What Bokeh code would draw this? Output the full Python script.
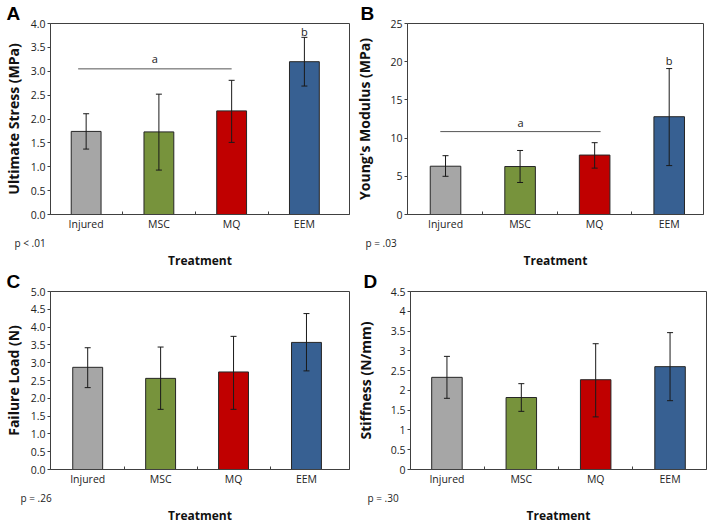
from bokeh.plotting import figure
from bokeh.models import ColumnDataSource, Whisker, TeeHead, FixedTicker, Range1d, Title
from bokeh.layouts import column, row
from bokeh.embed import file_html
from bokeh.resources import INLINE
from bokeh.core.properties import value

# ---------------- data ----------------
treatments = ["Injured", "MSC", "MQ", "EEM"]
bar_colors = ["#a6a6a6", "#77933c", "#c00000", "#376092"]

stress_mean = [1.74, 1.73, 2.17, 3.20]
stress_low = [1.37, 0.93, 1.51, 2.69]
stress_high = [2.11, 2.52, 2.81, 3.71]
stress_ticks = [0.0, 0.5, 1.0, 1.5, 2.0, 2.5, 3.0, 3.5, 4.0]
stress_tick_labels = ["0.0", "0.5", "1.0", "1.5", "2.0", "2.5", "3.0", "3.5", "4.0"]

modulus_mean = [6.32, 6.28, 7.78, 12.8]
modulus_low = [5.0, 4.19, 6.07, 6.4]
modulus_high = [7.7, 8.38, 9.4, 19.1]
modulus_ticks = [0, 5, 10, 15, 20, 25]
modulus_tick_labels = ["0", "5", "10", "15", "20", "25"]

load_mean = [2.87, 2.56, 2.74, 3.57]
load_low = [2.30, 1.69, 1.69, 2.77]
load_high = [3.42, 3.44, 3.74, 4.38]
load_ticks = [0.0, 0.5, 1.0, 1.5, 2.0, 2.5, 3.0, 3.5, 4.0, 4.5, 5.0]
load_tick_labels = ["0.0", "0.5", "1.0", "1.5", "2.0", "2.5", "3.0", "3.5", "4.0", "4.5", "5.0"]

stiff_mean = [2.33, 1.82, 2.27, 2.60]
stiff_low = [1.80, 1.47, 1.33, 1.74]
stiff_high = [2.86, 2.17, 3.18, 3.46]
stiff_ticks = [0, 0.5, 1, 1.5, 2, 2.5, 3, 3.5, 4, 4.5]
stiff_tick_labels = ["0", "0.5", "1", "1.5", "2", "2.5", "3", "3.5", "4", "4.5"]

# significance groups: bracket over Injured..MQ labelled "a", EEM labelled "b"
stress_bracket = dict(x0=-0.11, x1=2.0, y=3.05, label="a", label_y=3.26, b_y=3.84)
modulus_bracket = dict(x0=-0.07, x1=2.08, y=10.85, label="a", label_y=12.05, b_y=20.2)

p_values = {"A": "p < .01", "B": "p = .03", "C": "p = .26", "D": "p = .30"}

TICK_FONT = "Open Sans"
TITLE_FONT = "Open Sans"
DARK = "#262626"
FRAME = "#404040"


def make_panel(letter, ylabel, mean, low, high, yticks, ytick_labels, ymax, xr,
               fw, fh, bl, br, ystandoff, p_offset, bracket=None):
    idx = list(range(len(treatments)))
    p = figure(frame_width=fw, frame_height=fh, x_range=Range1d(*xr), y_range=Range1d(0, ymax),
               output_backend="svg", toolbar_location=None,
               min_border_left=bl, min_border_right=br, min_border_top=0, min_border_bottom=0,
               background_fill_color="white", border_fill_color="white",
               outline_line_color=FRAME, outline_line_width=1)
    p.xgrid.visible = False
    p.ygrid.visible = False

    src = ColumnDataSource(dict(x=idx, top=mean, lower=low, upper=high, color=bar_colors))
    p.vbar(x="x", top="top", width=0.41, source=src, fill_color="color",
           line_color=DARK, line_width=1)
    w = Whisker(base="x", upper="upper", lower="lower", source=src, level="overlay",
                line_color="#1a1a1a", line_width=1,
                upper_head=TeeHead(size=6, line_color="#1a1a1a", line_width=1),
                lower_head=TeeHead(size=6, line_color="#1a1a1a", line_width=1))
    p.add_layout(w)

    if bracket is not None:
        p.segment(x0=[bracket["x0"]], y0=[bracket["y"]], x1=[bracket["x1"]], y1=[bracket["y"]],
                  line_color="#555555", line_width=1)
        p.text(x=[(bracket["x0"] + bracket["x1"]) / 2, idx[-1]],
               y=[bracket["label_y"], bracket["b_y"]], text=[bracket["label"], "b"],
               text_font=value(TICK_FONT), text_font_size=value("11px"),
               text_align="center", text_baseline="middle", text_color="#222222")

    # x axis: category names at bar centres, small inward ticks between categories
    xa = p.xaxis[0]
    xa.ticker = FixedTicker(ticks=idx, minor_ticks=[i + 0.5 for i in idx[:-1]])
    xa.major_label_overrides = {i: t for i, t in enumerate(treatments)}
    xa.major_tick_in = 0
    xa.major_tick_out = 0
    xa.minor_tick_in = 3
    xa.minor_tick_out = 0
    xa.minor_tick_line_color = FRAME
    xa.axis_line_color = FRAME
    xa.major_label_text_font = TICK_FONT
    xa.major_label_text_font_size = "10.5px"
    xa.major_label_text_color = "#222222"
    xa.major_label_standoff = 2
    xa.axis_label_standoff = 0

    ya = p.yaxis[0]
    ya.ticker = FixedTicker(ticks=yticks, minor_ticks=[])
    ya.major_label_overrides = {t: l for t, l in zip(yticks, ytick_labels)}
    ya.major_tick_in = 0
    ya.major_tick_out = 3
    ya.major_tick_line_color = FRAME
    ya.axis_line_color = FRAME
    ya.major_label_text_font = TICK_FONT
    ya.major_label_text_font_size = "10.5px"
    ya.major_label_text_color = "#222222"
    ya.major_label_standoff = 2
    ya.axis_label = ylabel
    ya.axis_label_text_font = TITLE_FONT
    ya.axis_label_text_font_style = "bold"
    ya.axis_label_text_font_size = "14px"
    ya.axis_label_text_color = "#111111"
    ya.axis_label_standoff = ystandoff

    # panel letter above the plot, pushed into the left border
    p.add_layout(Title(text=letter, align="left", offset=-(bl - 1), standoff=0,
                       text_font="Liberation Sans", text_font_style="bold",
                       text_font_size="19px", text_color="#000000"), "above")
    # p-value line, then the x axis title
    p.add_layout(Title(text=p_values[letter], align="left", offset=p_offset, standoff=0,
                       text_font=TICK_FONT, text_font_style="normal",
                       text_font_size="10px", text_color="#222222"), "below")
    p.add_layout(Title(text="Treatment", align="center", standoff=0,
                       text_font=TITLE_FONT, text_font_style="bold",
                       text_font_size="12px", text_color="#111111"), "below")
    return p


pA = make_panel("A", "Ultimate Stress (MPa)", stress_mean, stress_low, stress_high,
                stress_ticks, stress_tick_labels, 4.0, (-0.49, 3.62),
                299, 191, 45, 3, 5, -36, bracket=stress_bracket)
pB = make_panel("B", "Young's Modulus (MPa)", modulus_mean, modulus_low, modulus_high,
                modulus_ticks, modulus_tick_labels, 25, (-0.51, 3.46),
                296, 191, 48, 2, 13, -42, bracket=modulus_bracket)
pC = make_panel("C", "Failure Load (N)", load_mean, load_low, load_high,
                load_ticks, load_tick_labels, 5.0, (-0.51, 3.59),
                299, 178, 45, 3, 5, -30)
pD = make_panel("D", "Stiffness (N/mm)", stiff_mean, stiff_low, stiff_high,
                stiff_ticks, stiff_tick_labels, 4.5, (-0.49, 3.49),
                296, 178, 48, 2, 13, -43)

layout = column(row(pA, pB), row(pC, pD))
open("out.html", "w").write(file_html(layout, INLINE))
